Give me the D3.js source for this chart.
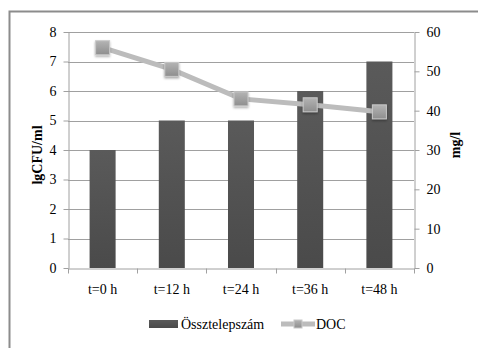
<!DOCTYPE html>
<html>
<head>
<meta charset="utf-8">
<script src="https://cdn.jsdelivr.net/npm/d3@7"></script>
<style>
  body { margin: 0; background: #fff; }
</style>
</head>
<body>
<svg id="chart" width="478" height="348"></svg>
<script>
/* combo chart: bars (left axis) + line (right axis) */
const categories = ["t=0 h", "t=12 h", "t=24 h", "t=36 h", "t=48 h"];
const cfuValues = [4, 5, 5, 6, 7];
const docValues = [56, 50.5, 43, 41.5, 39.7];
const leftTicks = [0, 1, 2, 3, 4, 5, 6, 7, 8];
const rightTicks = [0, 10, 20, 30, 40, 50, 60];

// pick a serif font that is really installed
function pickSerif() {
    const ctx = document.createElement("canvas").getContext("2d");
    const sample = "lgCFU/ml Össztelepszám 0123";
    const candidates = ["Liberation Serif", "Times New Roman", "Tinos", "DejaVu Serif", "Noto Serif", "FreeSerif"];
    for (const base of ["monospace", "sans-serif"]) {
        ctx.font = "20px " + base;
        const w0 = ctx.measureText(sample).width;
        for (const c of candidates) {
            ctx.font = `20px "${c}", ${base}`;
            if (Math.abs(ctx.measureText(sample).width - w0) > 0.5) return `"${c}", serif`;
        }
    }
    return "serif";
}
const serif = pickSerif();

const svg = d3.select("svg#chart");
const plotLeft = 68;
const plotRight = 414;
const plotTop = 32;
const plotBottom = 268;

const defs = svg.append("defs");
let barGrad = defs.append("linearGradient").attr("id", "barGrad")
    .attr("x1", 0).attr("y1", 0).attr("x2", 0).attr("y2", 1);
barGrad.append("stop").attr("offset", "0%").attr("stop-color", "#5a5a5a");
barGrad.append("stop").attr("offset", "100%").attr("stop-color", "#4a4a4a");
let markGrad = defs.append("linearGradient").attr("id", "markGrad")
    .attr("x1", 0).attr("y1", 0).attr("x2", 0).attr("y2", 1);
markGrad.append("stop").attr("offset", "0%").attr("stop-color", "#b4b4b4");
markGrad.append("stop").attr("offset", "100%").attr("stop-color", "#8e8e8e");
let shadow = defs.append("filter").attr("id", "shadow")
    .attr("x", "-50%").attr("y", "-50%").attr("width", "200%").attr("height", "200%");
shadow.append("feDropShadow").attr("dx", 0).attr("dy", 1.5).attr("stdDeviation", 1.2)
    .attr("flood-color", "#000").attr("flood-opacity", 0.35);

// outer frame (cut off at right and bottom)
svg.append("path")
    .attr("d", "M9.5,348 L9.5,11.5 L478,11.5")
    .attr("fill", "none")
    .attr("stroke", "#8c8c8c")
    .attr("stroke-width", 2);

const x = d3.scaleBand().domain(categories).range([plotLeft, plotRight]);
const yLeft = d3.scaleLinear().domain([0, 8]).range([plotBottom, plotTop]);
const yRight = d3.scaleLinear().domain([0, 60]).range([plotBottom, plotTop]);
const barWidth = x.bandwidth() * 0.376;

// gridlines
svg.append("g")
    .selectAll("line")
    .data(leftTicks.filter((d) => d > 0))
    .join("line")
    .attr("x1", plotLeft)
    .attr("x2", plotRight)
    .attr("y1", (d) => Math.round(yLeft(d)) + 0.5)
    .attr("y2", (d) => Math.round(yLeft(d)) + 0.5)
    .attr("stroke", "#a0a0a0");

// bars
svg.append("g")
    .selectAll("rect")
    .data(cfuValues)
    .join("rect")
    .attr("x", (d, i) => x(categories[i]) + x.bandwidth() / 2 - barWidth / 2)
    .attr("y", (d) => yLeft(d))
    .attr("width", barWidth)
    .attr("height", (d) => plotBottom - yLeft(d))
    .attr("fill", "url(#barGrad)");

// left axis
let leftAxis = svg.append("g")
    .attr("transform", `translate(${plotLeft + 0.5},0)`)
    .call(d3.axisLeft(yLeft).tickValues(leftTicks).tickSize(5).tickPadding(7).tickSizeOuter(0));
// right axis
let rightAxis = svg.append("g")
    .attr("transform", `translate(${plotRight + 0.5},0)`)
    .call(d3.axisRight(yRight).tickValues(rightTicks).tickSize(5).tickPadding(7).tickSizeOuter(0));
// bottom axis, ticks at category boundaries
let bottomAxis = svg.append("g")
    .attr("transform", `translate(0,${plotBottom + 0.5})`)
    .call(d3.axisBottom(x).tickSize(0).tickPadding(16).tickSizeOuter(0));
bottomAxis.selectAll("line.bound")
    .data(d3.range(categories.length + 1))
    .join("line")
    .attr("class", "bound")
    .attr("x1", (d) => Math.round(plotLeft + d * x.step()) + 0.5)
    .attr("x2", (d) => Math.round(plotLeft + d * x.step()) + 0.5)
    .attr("y1", 0)
    .attr("y2", 5)
    .attr("stroke", "#a0a0a0");

[leftAxis, rightAxis, bottomAxis].forEach((ax) => {
    ax.attr("font-family", serif).attr("font-size", 14);
    ax.select(".domain").attr("stroke", "#a0a0a0");
    ax.selectAll(".tick line").attr("stroke", "#a0a0a0");
    ax.selectAll("text").attr("fill", "#000");
});

// DOC line
const line = d3.line()
    .x((d, i) => x(categories[i]) + x.bandwidth() / 2)
    .y((d) => yRight(d));
svg.append("path")
    .datum(docValues)
    .attr("d", line)
    .attr("fill", "none")
    .attr("stroke", "#bcbcbc")
    .attr("stroke-width", 5);
svg.append("g")
    .selectAll("rect")
    .data(docValues)
    .join("rect")
    .attr("x", (d, i) => x(categories[i]) + x.bandwidth() / 2 - 7)
    .attr("y", (d) => yRight(d) - 7)
    .attr("width", 14)
    .attr("height", 14)
    .attr("fill", "url(#markGrad)")
    .attr("stroke", "#c8c8c8")
    .attr("stroke-width", 1)
    .attr("filter", "url(#shadow)");

// axis titles
svg.append("text")
    .text("lgCFU/ml")
    .attr("transform", "translate(42,155) rotate(-90)")
    .attr("text-anchor", "middle")
    .attr("font-family", serif)
    .attr("font-size", 14)
    .attr("font-weight", "bold");
svg.append("text")
    .text("mg/l")
    .attr("transform", "translate(460,145) rotate(-90)")
    .attr("text-anchor", "middle")
    .attr("font-family", serif)
    .attr("font-size", 14)
    .attr("font-weight", "bold");

// legend
let legend = svg.append("g")
    .attr("font-family", serif)
    .attr("font-size", 14);
legend.append("rect")
    .attr("x", 149).attr("y", 320)
    .attr("width", 29).attr("height", 8)
    .attr("fill", "url(#barGrad)");
legend.append("text")
    .text("Össztelepszám")
    .attr("x", 181).attr("y", 329);
legend.append("line")
    .attr("x1", 281).attr("x2", 315)
    .attr("y1", 324).attr("y2", 324)
    .attr("stroke", "#bcbcbc")
    .attr("stroke-width", 5);
legend.append("rect")
    .attr("x", 294).attr("y", 320)
    .attr("width", 8).attr("height", 8)
    .attr("fill", "url(#markGrad)")
    .attr("stroke", "#c8c8c8");
legend.append("text")
    .text("DOC")
    .attr("x", 316).attr("y", 329);
</script>
</body>
</html>
